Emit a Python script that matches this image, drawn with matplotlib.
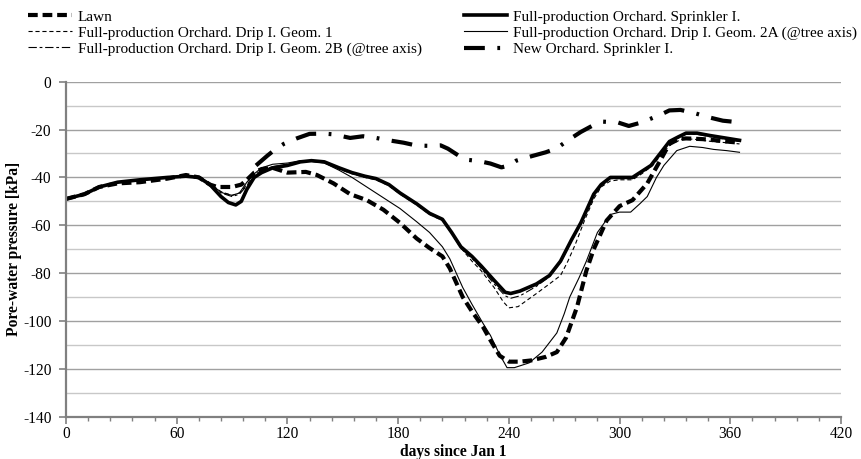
import matplotlib
matplotlib.use("Agg")
import matplotlib.pyplot as plt
from matplotlib.ticker import MultipleLocator

plt.rcParams['font.family'] = ['Liberation Serif', 'DejaVu Serif']
plt.rcParams['lines.scale_dashes'] = False
plt.rcParams['axes.unicode_minus'] = False

# ---------------- data ----------------
sprk_days = [0, 10, 18, 28, 40, 55, 65, 72, 78, 84, 88, 92, 95, 98, 102, 106, 112, 120, 127, 133,
             140, 148, 155, 162, 168, 175, 181, 190, 197, 204, 209, 214, 220, 225, 232, 238, 241,
             246, 255, 262, 268, 274, 279, 286, 290, 295, 300, 307, 312, 317, 322, 327, 332, 336,
             342, 349, 357, 365]
sprk_vals = [-49, -47, -44, -42, -41, -40, -39.5, -40, -43, -48, -50.5, -51.5, -50, -45, -40, -38,
             -36, -35, -33.5, -33, -33.5, -36, -38, -39.5, -40.5, -43, -46.5, -51, -55, -57.5, -63,
             -69, -73, -77, -83, -88, -88.5, -87.5, -84.5, -81, -75, -66, -59, -47, -43, -40, -40,
             -40, -37.5, -35, -30, -25, -23, -21.5, -21.5, -22.5, -23.5, -24.5]

lawn_days = [0, 10, 18, 28, 40, 55, 65, 72, 78, 82, 90, 95, 98, 102, 106, 112, 120, 130, 136, 145,
             154, 163, 172, 181, 190, 197, 204, 208, 215, 220, 226, 230, 235, 240, 246, 252, 260,
             266, 271, 277, 282, 286, 293, 300, 307, 311, 315, 322, 327, 332, 336, 345, 351, 358,
             365]
lawn_vals = [-49, -47, -44, -42.5, -42, -40.5, -39, -40, -43, -44, -44, -43, -41, -38, -36.5, -36,
             -38, -37.7, -39, -42.5, -47, -49.5, -53.5, -59, -65.5, -69.5, -73, -78, -90, -96,
             -102.5, -108, -114.5, -117, -117, -116.5, -115, -113, -107, -94, -79, -70, -58, -52,
             -49.5, -46, -42.5, -33, -26, -24, -23.7, -24, -24.4, -25, -25.5]

g2a_days = [0, 10, 18, 28, 40, 55, 65, 72, 75, 80, 85, 90, 94, 98, 102, 106, 112, 120, 127, 133,
            140, 148, 155, 163, 172, 181, 190, 197, 204, 208, 215, 220, 226, 230, 235, 239, 243,
            251, 258, 266, 270, 273, 278, 282, 288, 295, 300, 306, 311, 315, 320, 324, 331, 338,
            345, 351, 358, 365]
g2a_vals = [-49, -47, -44, -42, -41, -40, -39.5, -40, -41, -44, -46.5, -47.5, -46.5, -42, -38.5, -36,
            -34.5, -34, -33, -33.3, -34, -37, -40, -44, -48.5, -53, -58.5, -63, -69, -74, -86, -93,
            -101, -106, -114, -119.5, -119.5, -117.5, -113, -105, -97, -90, -82, -75, -63, -55.5,
            -54.5, -54.5, -51, -48, -40, -35, -28.8, -27, -27.5, -28.3, -28.8, -29.5]

g1_days = [0, 10, 18, 28, 40, 55, 65, 72, 78, 84, 90, 94, 98, 102, 106, 112, 120, 127, 133, 140,
           148, 155, 162, 168, 175, 181, 190, 197, 204, 209, 214, 220, 225, 232, 237, 240, 245,
           255, 262, 268, 272, 276, 281, 286, 290, 295, 300, 307, 312, 318, 323, 328, 334, 340,
           350, 358, 365]
g1_vals = [-49, -47, -44, -42, -41, -40, -39.5, -40, -42.5, -46, -47.5, -46.5, -43, -39, -37, -35.5,
           -34.5, -33.3, -33, -33.8, -36.5, -38.5, -40, -41, -43.5, -47, -51.5, -55.5, -58, -63.5,
           -69.5, -75, -79, -86, -92, -94.5, -94, -88.5, -84.5, -81, -75, -68, -58, -49, -44,
           -41.5, -41, -41, -38.5, -35, -30, -26, -24, -24, -25, -25.5, -26]

g2b_days = [0, 10, 18, 28, 40, 55, 65, 72, 78, 84, 90, 94, 98, 102, 106, 112, 120, 127, 133, 140,
            148, 155, 162, 168, 175, 181, 190, 197, 204, 209, 214, 220, 225, 232, 238, 241, 246,
            255, 262, 268, 274, 279, 286, 290, 295, 300, 307, 312, 317, 322, 327, 332, 336, 342,
            349, 357, 365]
g2b_vals = [-49, -47, -44, -42, -41, -40, -39.5, -40, -42.5, -46.5, -48, -47, -43.5, -39.5, -37.5,
            -35.5, -34.5, -33.3, -33, -33.6, -36.3, -38.3, -39.8, -40.8, -43.3, -46.8, -51.3, -55.3,
            -57.8, -63.5, -69.5, -73.8, -78, -84.5, -89.5, -90.5, -89.5, -85.5, -81.5, -75.5, -66.5,
            -59.5, -47.5, -43.5, -40.5, -40.5, -40.5, -38, -35.5, -30.5, -25.5, -23.5, -22, -22,
            -23, -24, -25]

new_days = [103, 106, 109, 113, 118, 125, 132, 140, 145, 154, 161, 168, 175, 183, 190, 197, 203,
            207, 211, 216, 224, 230, 236, 240, 244, 252, 260, 266, 272, 279, 285, 291, 299, 305,
            312, 319, 323, 327, 333, 340, 349, 356, 365]
new_vals = [-35, -33, -31, -28.5, -26, -23.7, -21.8, -21.7, -22, -23.5, -22.8, -23.5, -24.5, -25.5,
            -26.7, -26.8, -26.6, -28, -30, -32.5, -33.2, -34.2, -35.8, -35, -33, -31.2, -29.5,
            -27.8, -24.5, -21, -18.5, -16.7, -17, -18.5, -17, -14.8, -13.5, -12, -11.8, -13, -15,
            -16.3, -17]

labels = ["Lawn",
          "Full-production Orchard. Drip I. Geom. 1",
          "Full-production Orchard. Drip I. Geom. 2B (@tree axis)",
          "Full-production Orchard. Sprinkler I.",
          "Full-production Orchard. Drip I. Geom. 2A (@tree axis)",
          "New Orchard. Sprinkler I."]

x_ticks = [0, 60, 120, 180, 240, 300, 360, 420]
y_ticks = [0, -20, -40, -60, -80, -100, -120, -140]

# ---------------- figure ----------------
FS = 11.2
LFS = 11.0
fig = plt.figure(figsize=(8.62, 4.59), dpi=100)
ax = fig.add_axes([66/862, 1 - 416.7/459, (841-66)/862, (416.7-81.7)/459])

h_g2b, = ax.plot(g2b_days, g2b_vals, color='black', lw=0.8, linestyle=(0, (6, 2, 2, 2)))
h_g1, = ax.plot(g1_days, g1_vals, color='black', lw=0.8, linestyle=(0, (3, 2)))
h_g2a, = ax.plot(g2a_days, g2a_vals, color='black', lw=0.8)
h_sp, = ax.plot(sprk_days, sprk_vals, color='black', lw=2.6, solid_joinstyle='round')
h_lawn, = ax.plot(lawn_days, lawn_vals, color='black', lw=3.0, linestyle=(0, (7, 3.5)))
h_new, = ax.plot(new_days, new_vals, color='black', lw=3.0, linestyle=(0, (15, 9, 2, 9)))

ax.set_xlim(0, 420)
ax.set_ylim(-140, 0)
ax.set_xticks(x_ticks)
ax.set_yticks(y_ticks)
ax.xaxis.set_minor_locator(MultipleLocator(12))
ax.yaxis.set_minor_locator(MultipleLocator(10))

ax.grid(True, which='major', axis='y', color='#a0a0a0', lw=1.0)
ax.grid(True, which='minor', axis='y', color='#c8c8c8', lw=1.0)
ax.set_axisbelow(True)

for s in ['top', 'right']:
    ax.spines[s].set_visible(False)
for s in ['left', 'bottom']:
    ax.spines[s].set_color('#808080')
    ax.spines[s].set_linewidth(1.6)

ax.tick_params(axis='x', which='major', direction='out', length=5, width=1.2, color='#808080',
               labelsize=FS, pad=2)
ax.tick_params(axis='x', which='minor', direction='out', length=3, width=1.0, color='#808080')
ax.tick_params(axis='y', which='major', direction='out', length=5, width=1.2, color='#808080',
               labelsize=FS, pad=5.5)
ax.tick_params(axis='y', which='minor', length=0)

ax.set_xlabel("days since Jan 1", fontsize=FS, fontweight='bold')
ax.set_ylabel("Pore-water pressure [kPa]", fontsize=FS, fontweight='bold')
ax.xaxis.set_label_coords(0.5, -(444 - 416.7) / 335)
ax.yaxis.set_label_coords(-(66 - 22) / 775, 0.5)

handles = [h_lawn, h_g1, h_g2b, h_sp, h_g2a, h_new]
fig.legend(handles, labels, ncol=2, loc='upper left', bbox_to_anchor=(22/862, 1 - 4/459),
           frameon=False, fontsize=LFS, handlelength=2.85, handletextpad=0.4,
           labelspacing=0.15, columnspacing=2.75, borderaxespad=0)

fig.savefig("out.png", dpi=100)
